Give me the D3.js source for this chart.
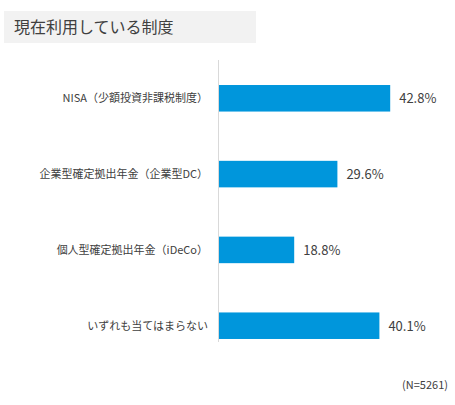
<!DOCTYPE html>
<html><head><meta charset="utf-8">
<script src="https://cdn.jsdelivr.net/npm/d3@7"></script>
<style>body{margin:0;background:#fff}</style>
</head><body>
<svg id="c" width="455" height="405"></svg>
<script>
const categories = ["NISA（少額投資非課税制度）", "企業型確定拠出年金（企業型DC）", "個人型確定拠出年金（iDeCo）", "いずれも当てはまらない"];
const values = [42.8, 29.6, 18.8, 40.1];
const font = "'Noto Sans CJK JP', 'Noto Sans', sans-serif";

const svg = d3.select("#c");
svg.append("rect").attr("x", 4).attr("y", 11).attr("width", 252).attr("height", 32).attr("fill", "#f2f2f2");
svg.append("text").attr("x", 14).attr("y", 33).attr("font-family", font).attr("font-size", 16)
  .attr("fill", "#404040").text("現在利用している制度");

const x = d3.scaleLinear().domain([0, 50]).range([219, 219 + 50 * 4.0]);
const y = d3.scaleBand().domain(categories).range([60, 364]).paddingInner(0.65).paddingOuter(0.33);

svg.append("line").attr("x1", 218.5).attr("x2", 218.5).attr("y1", 60).attr("y2", 342)
  .attr("stroke", "#d9d9d9");

const g = svg.selectAll("g.bar").data(categories).join("g");
g.append("rect").attr("x", x(0)).attr("y", d => y(d)).attr("height", y.bandwidth())
  .attr("width", (d, i) => x(values[i]) - x(0)).attr("fill", "#0096dc");
g.append("text").attr("x", 208).attr("y", d => y(d) + y.bandwidth() / 2 + 4)
  .attr("text-anchor", "end").attr("font-family", font).attr("font-size", 11).attr("fill", "#404040")
  .text(d => d);
g.append("text").attr("x", (d, i) => x(values[i]) + 9).attr("y", d => y(d) + y.bandwidth() / 2 + 5)
  .attr("font-family", font).attr("font-size", 13).attr("fill", "#404040")
  .text((d, i) => values[i].toFixed(1) + "%");

svg.append("text").attr("x", 448).attr("y", 389).attr("text-anchor", "end")
  .attr("font-family", font).attr("font-size", 11).attr("fill", "#404040").text("(N=5261)");
</script>
</body></html>
